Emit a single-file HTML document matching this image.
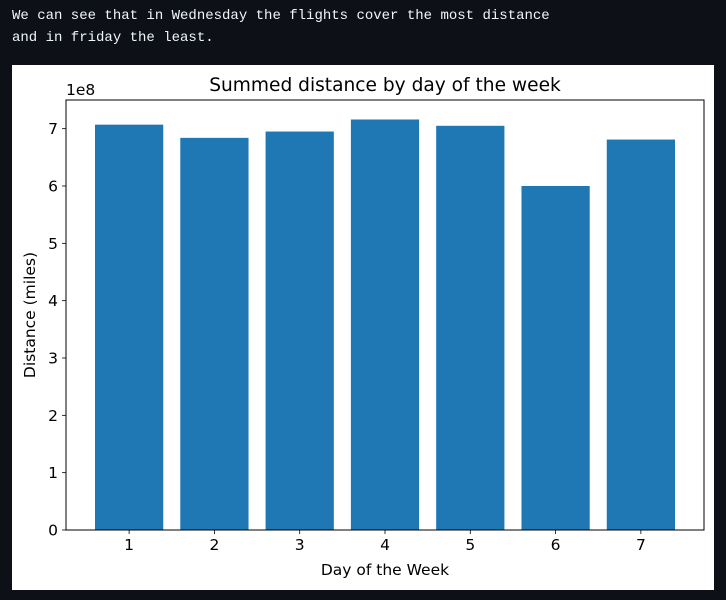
<!DOCTYPE html>
<html><head><meta charset="utf-8"><style>
body{margin:0;width:726px;height:600px;background:#0d1117;overflow:hidden;position:relative}
#txt{position:absolute;left:12px;top:5px;font:14px/22px "Liberation Mono",monospace;color:#f0f6fc;white-space:pre}
#panel{position:absolute;left:12px;top:65px;width:702px;height:525px;background:#fff}
svg text{font-family:"DejaVu Sans",sans-serif;fill:#000}
</style></head><body>
<div id="txt">We can see that in Wednesday the flights cover the most distance
and in friday the least.</div>
<div id="panel"></div>
<svg id="chart" width="726" height="600" style="position:absolute;left:0;top:0"></svg>
<script>
const days=[1,2,3,4,5,6,7];
const distances=[7.07,6.84,6.95,7.16,7.05,6.00,6.81];
const yTicks=[0,1,2,3,4,5,6,7];
const svg=document.getElementById('chart');
const NS='http://www.w3.org/2000/svg';
const L=66,R=704,T=100,B=530;
const xMin=0.26,xMax=7.74,yMax=7.5;
const xs=v=>L+(v-xMin)/(xMax-xMin)*(R-L);
const ys=v=>B-v/yMax*(B-T);
function mk(t,a,txt){const e=document.createElementNS(NS,t);for(const k in a)e.setAttribute(k,a[k]);if(txt!==undefined)e.textContent=txt;svg.appendChild(e);return e;}
days.forEach((d,i)=>{
  const b=mk('rect',{x:xs(d-0.4),y:ys(distances[i]),width:xs(d+0.4)-xs(d-0.4),height:B-ys(distances[i]),fill:'#1f77b4'});
  
  
  const tk=mk('line',{x1:xs(d),x2:xs(d),y1:B,y2:B+4,stroke:'#000','stroke-width':0.8});
  
  
  const tl=mk('text',{x:xs(d),y:B+20,'text-anchor':'middle','font-size':15.5},String(d));
  
  
});
yTicks.forEach(v=>{
  const tk=mk('line',{x1:L-4,x2:L,y1:ys(v),y2:ys(v),stroke:'#000','stroke-width':0.8});
  
  
  const tl=mk('text',{x:L-8,y:ys(v)+5.5,'text-anchor':'end','font-size':15.5},String(v));
  
  
});
const fr=mk('rect',{x:L,y:T,width:R-L,height:B-T,fill:'none',stroke:'#000','stroke-width':1});


const off=mk('text',{x:L,y:T-5,'font-size':15.5},'1e8');


const ti=mk('text',{x:(L+R)/2,y:T-9,'text-anchor':'middle','font-size':18.6},'Summed distance by day of the week');


const xl=mk('text',{x:(L+R)/2,y:575,'text-anchor':'middle','font-size':15.5},'Day of the Week');


const yl=mk('text',{x:0,y:0,'text-anchor':'middle','font-size':15.5,transform:`translate(35,${(T+B)/2}) rotate(-90)`},'Distance (miles)');


</script>
</body></html>
